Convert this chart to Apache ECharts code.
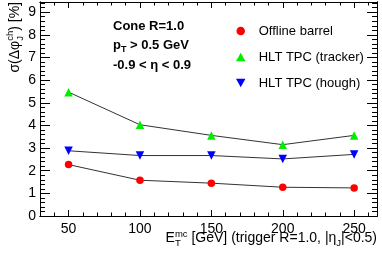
<!DOCTYPE html>
<html><head><meta charset="utf-8">
<script src="https://cdn.jsdelivr.net/npm/echarts@6/dist/echarts.min.js"></script>
<style>html,body{margin:0;padding:0;background:#fff}#c{width:382px;height:254px}</style>
</head><body><div id="c"></div>
<script>
// ---- data ----
const energies = [50, 100, 150, 200, 250];
const offlineBarrel = [2.27, 1.58, 1.45, 1.27, 1.24];
const hltTracker = [5.47, 4.03, 3.56, 3.15, 3.56];
const hltHough = [2.88, 2.67, 2.67, 2.52, 2.72];
const seriesNames = ['Offline barrel', 'HLT TPC (tracker)', 'HLT TPC (hough)'];
const xTickLabels = [50, 100, 150, 200, 250];
const yTickLabels = [0, 1, 2, 3, 4, 5, 6, 7, 8, 9];

// ---- axis ranges / tick positions ----
const X_MIN = 30, X_MAX = 266, Y_MIN = 0, Y_MAX = 9.45;
const xMinor = [];
for (let v = 30; v <= 260; v += 10) if (v % 50 !== 0) xMinor.push(v);
const yMinor = [];
for (let k = 0; k <= 47; k++) { const v = +(k * 0.2).toFixed(1); if (k % 5 !== 0 && v <= Y_MAX) yMinor.push(v); }

const FONT = '"Liberation Sans", Arial, Helvetica, sans-serif';
const ctx = document.createElement('canvas').getContext('2d');
function tw(s, size, weight) { ctx.font = (weight || 'normal') + ' ' + size + 'px ' + FONT; return ctx.measureText(s).width; }

// pieces: {t, s, dy, w, stack}
function formula(pieces) {
  let x = 0, prevStart = 0, prevEnd = 0;
  const out = [];
  pieces.forEach(p => {
    let start = p.stack ? prevStart : x;
    const w = tw(p.t, p.s, p.w);
    out.push({ t: p.t, s: p.s, dy: p.dy || 0, w: p.w || 'normal', x: start });
    const end = start + w;
    if (p.stack) { x = Math.max(prevEnd, end); } else { prevStart = start; prevEnd = end; x = end; }
  });
  return { items: out, width: x };
}
function toGraphic(f, color) {
  return f.items.map(it => ({
    type: 'text', x: it.x, y: it.dy - 0.35 * it.s,
    style: { text: it.t, fontSize: it.s, fontFamily: FONT, fontWeight: it.w, fill: color || '#000',
      align: 'left', verticalAlign: 'middle' }
  }));
}

const SUB = 9.5;
const xTitle = formula([
  { t: 'E', s: 14 }, { t: 'T', s: SUB, dy: 3.5 }, { t: 'mc', s: SUB, dy: -6, stack: true },
  { t: ' [GeV] (trigger R=1.0, |\u03b7', s: 14 }, { t: 'J', s: SUB, dy: 3.5 }, { t: '|<0.5)', s: 14 }
]);
const yTitle = formula([
  { t: '\u03c3(\u0394\u03c6', s: 14 }, { t: 'J', s: SUB, dy: 3.5 }, { t: 'ch', s: SUB, dy: -6.5, stack: true },
  { t: ') [%]', s: 14 }
]);
const t1 = formula([{ t: 'Cone R=1.0', s: 13, w: 'bold' }]);
const t2 = formula([{ t: 'p', s: 13, w: 'bold' }, { t: 'T', s: 9, w: 'bold', dy: 3.5 }, { t: ' > 0.5 GeV', s: 13, w: 'bold' }]);
const t3 = formula([{ t: '-0.9 < \u03b7 < 0.9', s: 13, w: 'bold' }]);

function xAx(pos, ticks, len, labels) {
  return {
    type: 'value', position: pos, min: X_MIN, max: X_MAX, interval: 10,
    axisLine: { show: true, onZero: false, lineStyle: { color: '#000', width: 1 } },
    axisTick: { show: true, inside: true, length: len, customValues: ticks, lineStyle: { color: '#000', width: 1 } },
    axisLabel: labels ? { show: true, customValues: labels, fontSize: 14, fontFamily: FONT, color: '#000', margin: 6 } : { show: false },
    splitLine: { show: false }
  };
}
function yAx(pos, ticks, len, labels) {
  return {
    type: 'value', position: pos, min: Y_MIN, max: Y_MAX, interval: 0.2,
    axisLine: { show: true, onZero: false, lineStyle: { color: '#000', width: 1 } },
    axisTick: { show: true, inside: true, length: len, customValues: ticks, lineStyle: { color: '#000', width: 1 } },
    axisLabel: labels ? { show: true, customValues: labels, fontSize: 14, fontFamily: FONT, color: '#000', margin: 4 } : { show: false },
    splitLine: { show: false }
  };
}

const UP_TRI = 'path://M5,0L10,9L0,9Z';
const INV_TRI = 'path://M0,0L10,0L5,9Z';
const colors = ['#ff0000', '#00ee00', '#0000ff'];
const symbols = ['circle', UP_TRI, INV_TRI];
const sizes = [7.5, 8.5, 8.5];
const values = [offlineBarrel, hltTracker, hltHough];

const chart = echarts.init(document.getElementById('c'), null, { renderer: 'canvas' });
chart.setOption({
  animation: false,
  backgroundColor: '#fff',
  grid: { left: 40, right: 5, top: 2, bottom: 38, containLabel: false, outerBoundsMode: 'none' },
  xAxis: [
    xAx('bottom', xTickLabels, 6, xTickLabels),
    xAx('bottom', xMinor, 3.5, null),
    xAx('top', xTickLabels, 6, null),
    xAx('top', xMinor, 3.5, null)
  ],
  yAxis: [
    yAx('left', yTickLabels, 10, yTickLabels),
    yAx('left', yMinor, 5, null),
    yAx('right', yTickLabels, 10, null),
    yAx('right', yMinor, 5, null)
  ],
  legend: {
    orient: 'vertical', left: 231, top: 19.5, itemWidth: 26, itemHeight: 8.5, itemGap: 13,
    textStyle: { fontSize: 13, fontFamily: FONT, color: '#000' },
    selectedMode: false,
    data: seriesNames.map((n, i) => ({ name: n, icon: symbols[i] }))
  },
  series: seriesNames.map((n, i) => ({
    type: 'line', name: n, xAxisIndex: 0, yAxisIndex: 0,
    data: energies.map((e, j) => [e, values[i][j]]),
    symbol: symbols[i], symbolSize: sizes[i], showAllSymbol: true,
    itemStyle: { color: colors[i] },
    lineStyle: { color: '#333', width: 1 },
    emphasis: { disabled: true }
  })),
  graphic: [
    { type: 'group', x: 377 - xTitle.width, y: 243.5, children: toGraphic(xTitle) },
    { type: 'group', x: 20, y: 2 + yTitle.width, rotation: Math.PI / 2, children: toGraphic(yTitle) },
    { type: 'group', x: 113, y: 30.5, children: toGraphic(t1) },
    { type: 'group', x: 113, y: 49.5, children: toGraphic(t2) },
    { type: 'group', x: 113, y: 69.5, children: toGraphic(t3) }
  ]
});
</script>
</body></html>
